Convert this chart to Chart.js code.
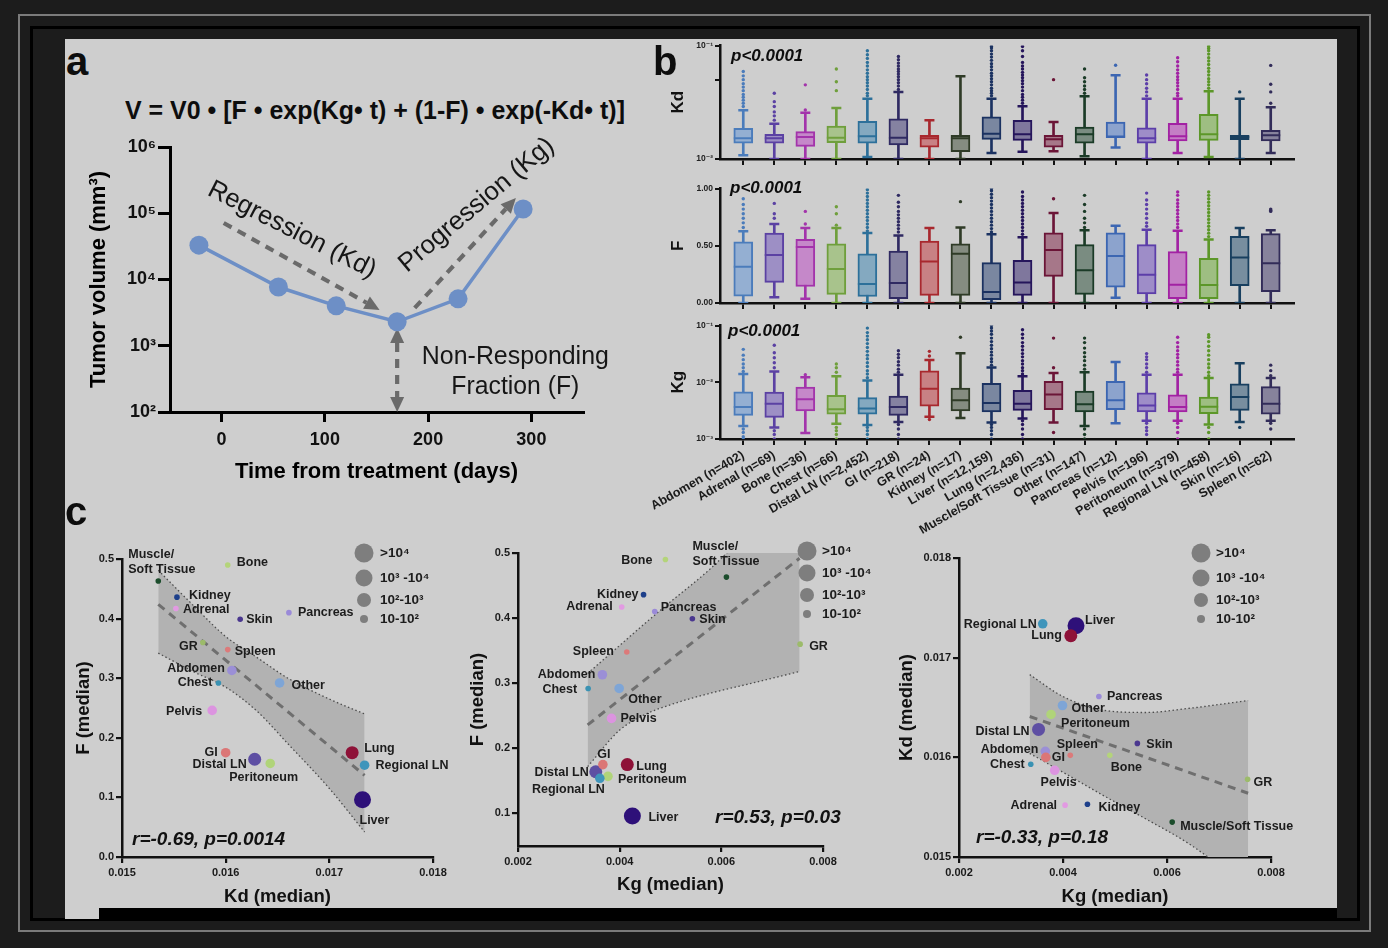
<!DOCTYPE html>
<html><head><meta charset="utf-8">
<script src="https://cdn.jsdelivr.net/npm/chart.js@4.4.1/dist/chart.umd.min.js"></script>
<style>
html,body{margin:0;padding:0;}
body{width:1388px;height:948px;background:#1c1c1c;position:relative;overflow:hidden;font-family:'Liberation Sans','DejaVu Sans',Arial,sans-serif;}
.abs{position:absolute;}
#outline{left:18px;top:14px;width:1353px;height:918px;border:2px solid #7b7b7b;box-sizing:border-box;}
#blk{left:30px;top:26px;width:1330px;height:895px;border:3px solid #000;box-sizing:border-box;}
#panel{left:65px;top:39px;width:1272px;height:869px;background:#cecece;}
#panelFoot{left:65px;top:908px;width:34px;height:11px;background:#cecece;}
#footBar{left:99px;top:908px;width:1238px;height:11px;background:#000;}
canvas{position:absolute;}
.lbl{position:absolute;font-weight:bold;color:#0d0d0d;line-height:1;white-space:nowrap;}
.ptxt{font-style:italic;font-size:17px;}
</style></head>
<body>
<div id="outline" class="abs"></div>
<div id="blk" class="abs"></div>
<div id="panel" class="abs"></div>
<div id="panelFoot" class="abs"></div>
<div id="footBar" class="abs"></div>

<canvas id="ca" width="570" height="375" style="left:60px;top:125px"></canvas>
<canvas id="b1" width="680" height="140" style="left:630px;top:34px"></canvas>
<canvas id="b2" width="680" height="141" style="left:630px;top:177px"></canvas>
<canvas id="b3" width="680" height="231" style="left:630px;top:314px"></canvas>
<canvas id="c1" width="400" height="378" style="left:70px;top:530px"></canvas>
<canvas id="c2" width="420" height="383" style="left:465px;top:525px"></canvas>
<canvas id="c3" width="445" height="383" style="left:890px;top:525px"></canvas>

<div class="lbl" style="left:66px;top:41px;font-size:40px">a</div>
<div class="lbl" style="left:653px;top:41px;font-size:40px">b</div>
<div class="lbl" style="left:65px;top:491px;font-size:40px">c</div>
<div class="lbl" id="formula" style="left:125px;top:98px;font-size:25px;transform-origin:0 0">V = V0 • [F • exp(Kg• t) + (1-F) • exp(-Kd• t)]</div>
<div class="lbl ptxt" style="left:731px;top:46.6px">p&lt;0.0001</div>
<div class="lbl ptxt" style="left:730px;top:178.6px">p&lt;0.0001</div>
<div class="lbl ptxt" style="left:728px;top:321.6px">p&lt;0.0001</div>

<script>
// ---------------- DATA ----------------
const categories = ['Abdomen','Adrenal','Bone','Chest','Distal LN','GI','GR','Kidney','Liver','Lung','Muscle/Soft Tissue','Other','Pancreas','Pelvis','Peritoneum','Regional LN','Skin','Spleen'];
const counts = [402,69,36,66,2452,218,24,17,12159,2436,31,147,12,196,379,458,16,62];

// panel a
const timeDays = [-22, 55, 111, 170, 229, 292];
const tumorVolume = [33000, 7700, 4000, 2300, 5100, 116000];
const xTicksA = [0, 100, 200, 300];
const yTicksA = [1e2, 1e3, 1e4, 1e5, 1e6];

// panel b: [low whisker, Q1, median, Q3, high whisker]
const kdBox = [
 [0.0108,0.0138,0.0152,0.0186,0.0269],[0.0100,0.0138,0.0152,0.0165,0.0204],[0.0100,0.0129,0.0156,0.0174,0.0255],
 [0.0100,0.0139,0.0154,0.0195,0.0282],[0.0104,0.0138,0.0159,0.0215,0.0340],[0.0100,0.0133,0.0154,0.0226,0.0390],
 [0.0100,0.0127,0.0152,0.0162,0.0219],[0.0100,0.0116,0.0152,0.0162,0.0535],[0.0113,0.0149,0.0167,0.0235,0.0340],
 [0.0116,0.0146,0.0165,0.0219,0.0292],[0.0117,0.0127,0.0149,0.0162,0.0212],[0.0106,0.0138,0.0165,0.0191,0.0357],
 [0.0126,0.0154,0.0158,0.0212,0.0546],[0.0100,0.0138,0.0152,0.0188,0.0340],[0.0113,0.0144,0.0159,0.0206,0.0340],
 [0.0104,0.0146,0.0165,0.0247,0.0395],[0.0100,0.0148,0.0156,0.0162,0.0340],[0.0113,0.0144,0.0162,0.0179,0.0286]
];
const kdOutliers = [
 [0.029,0.031,0.033,0.035,0.037,0.04,0.043,0.046,0.05,0.054,0.059],
 [0.022,0.024,0.026,0.029,0.032,0.038],
 [0.027,0.045],
 [0.04,0.048,0.062],
 [0.036,0.038,0.041,0.044,0.047,0.05,0.053,0.057,0.061,0.066,0.071,0.077,0.083,0.09],
 [0.041,0.044,0.047,0.05,0.053,0.056,0.059,0.062,0.066,0.07,0.075,0.08],
 [],
 [],
 [0.036,0.038,0.04,0.042,0.045,0.048,0.051,0.054,0.057,0.061,0.065,0.069,0.074,0.079,0.084,0.09,0.095,0.098],
 [0.031,0.033,0.035,0.037,0.04,0.043,0.046,0.049,0.052,0.055,0.058,0.062,0.066,0.071,0.08,0.09,0.098],
 [0.05],
 [0.038,0.041,0.044,0.048,0.052,0.062],
 [0.067],
 [0.036,0.039,0.042,0.046,0.05,0.055],
 [0.036,0.038,0.041,0.044,0.047,0.05,0.053,0.057,0.061,0.066,0.072,0.078],
 [0.042,0.045,0.048,0.051,0.055,0.059,0.063,0.068,0.073,0.078,0.084,0.09,0.094,0.098],
 [0.039],
 [0.031,0.039,0.0455,0.0668]
];
const fBox = [
 [0,0.06,0.316,0.534,0.626],[0.05,0.18,0.42,0.61,0.69],[0.037,0.144,0.49,0.555,0.655],
 [0,0.075,0.296,0.517,0.655],[0,0.057,0.167,0.43,0.612],[0,0.037,0.175,0.454,0.59],
 [0,0.066,0.362,0.54,0.655],[0,0.066,0.43,0.517,0.66],[0,0.03,0.095,0.353,0.6],
 [0,0.066,0.18,0.373,0.575],[0,0.233,0.463,0.612,0.785],[0,0.075,0.287,0.51,0.635],
 [0.046,0.138,0.41,0.612,0.675],[0,0.08,0.247,0.51,0.64],[0,0.037,0.16,0.448,0.632],
 [0,0.037,0.158,0.39,0.555],[0,0.152,0.397,0.583,0.655],[0,0.1,0.348,0.606,0.635]
];
const fOutliers = [
 [0.66,0.7,0.74,0.78,0.82,0.86,0.91],
 [0.74,0.78,0.87],
 [0.69,0.8],
 [0.68,0.78,0.84],
 [0.63,0.66,0.69,0.72,0.75,0.78,0.81,0.84,0.87,0.9,0.93,0.96,0.99],
 [0.62,0.65,0.68,0.71,0.74,0.77,0.8,0.84,0.88,0.94],
 [],
 [0.885],
 [0.62,0.65,0.68,0.71,0.74,0.77,0.8,0.83,0.86,0.89,0.92,0.95,0.98,1.0],
 [0.6,0.63,0.66,0.69,0.72,0.75,0.78,0.81,0.84,0.87,0.9,0.93,0.97],
 [0.91],
 [0.66,0.7,0.74,0.8,0.86,0.94],
 [],
 [0.67,0.7,0.74,0.78,0.82,0.86,0.9,0.96],
 [0.66,0.69,0.72,0.75,0.78,0.81,0.84,0.87,0.9,0.94,0.97],
 [0.58,0.61,0.64,0.67,0.7,0.73,0.76,0.79,0.82,0.85,0.88,0.91,0.94,0.97],
 [],
 [0.8,0.81,0.82]
];
const kgBox = [
 [0.0017,0.0026,0.00368,0.0068,0.014],[0.0016,0.0024,0.0042,0.0067,0.0155],[0.00127,0.00314,0.005,0.0082,0.0122],
 [0.00185,0.00275,0.00336,0.0059,0.0127],[0.00177,0.00275,0.00345,0.00535,0.0107],[0.002,0.0026,0.00368,0.0057,0.0136],
 [0.00247,0.0038,0.0077,0.0159,0.0247],[0.00234,0.00314,0.0048,0.0079,0.0323],[0.00195,0.003,0.0043,0.0096,0.0182],
 [0.0023,0.0032,0.0042,0.0072,0.0127],[0.00195,0.0033,0.0061,0.0104,0.0145],[0.0017,0.003,0.0041,0.007,0.015],
 [0.0019,0.0033,0.0048,0.0104,0.0228],[0.0021,0.003,0.0039,0.0065,0.0136],[0.0021,0.003,0.00368,0.006,0.0136],
 [0.0018,0.0028,0.0037,0.0055,0.0119],[0.002,0.0032,0.0055,0.0094,0.0216],[0.0021,0.00275,0.0042,0.0084,0.0119]
];
const kgOutliers = [
 [0.0155,0.018,0.021,0.025,0.03,0.038,0.0015,0.0013,0.0011,0.001],
 [0.018,0.022,0.027,0.033,0.045,0.0014,0.0012,0.001],
 [0.0136],
 [0.015,0.018,0.021,0.0016,0.0014,0.0012,0.001],
 [0.012,0.014,0.016,0.019,0.022,0.026,0.03,0.035,0.041,0.048,0.056,0.065,0.075,0.09,0.0016,0.0014,0.0012,0.001],
 [0.015,0.017,0.02,0.023,0.027,0.031,0.036,0.0018,0.0015,0.0012,0.001],
 [0.029,0.035,0.0022],
 [0.062],
 [0.02,0.023,0.026,0.03,0.034,0.039,0.045,0.052,0.06,0.07,0.08,0.09,0.1,0.0018,0.0016,0.0014,0.0012,0.001],
 [0.014,0.016,0.018,0.021,0.024,0.028,0.032,0.037,0.043,0.05,0.06,0.07,0.084,0.0021,0.0018,0.0015,0.0012,0.001],
 [0.018,0.06,0.0013],
 [0.017,0.02,0.024,0.028,0.033,0.04,0.05,0.06,0.0015,0.0012,0.001],
 [],
 [0.015,0.018,0.021,0.025,0.028,0.032,0.0019,0.0016,0.0014,0.0012],
 [0.015,0.017,0.02,0.023,0.027,0.031,0.036,0.042,0.05,0.062,0.0019,0.0016,0.0013,0.001],
 [0.013,0.015,0.018,0.021,0.025,0.03,0.036,0.043,0.052,0.062,0.069,0.0016,0.0013,0.001],
 [0.0016],
 [0.013,0.016,0.02,0.0019,0.0015]
];

// panel c: per-site medians
const kdMedian = [0.01606,0.01552,0.01602,0.01593,0.01628,0.01600,0.01578,0.01553,0.01732,0.01722,0.01535,0.01652,0.01661,0.01587,0.01643,0.01734,0.01614,0.01602];
const fMedian  = [0.313,0.417,0.490,0.292,0.164,0.175,0.360,0.436,0.096,0.175,0.463,0.292,0.410,0.246,0.157,0.154,0.399,0.348];
const kgMedian = [0.00366,0.00404,0.00490,0.00338,0.00353,0.00367,0.00755,0.00447,0.00425,0.00415,0.00610,0.00399,0.00469,0.00384,0.00377,0.00361,0.00543,0.00414];
// regression lines and 95% bands
const c1RegX = [0.01535, 0.01734], c1RegY = [0.424, 0.137];
const c1BandX = [0.01535,0.0157,0.0160,0.0163,0.0166,0.0170,0.01734];
const c1BandUp = [0.481,0.42,0.37,0.335,0.30,0.265,0.24];
const c1BandLo = [0.342,0.31,0.285,0.245,0.19,0.115,0.042];
const c2RegX = [0.00337, 0.00754], c2RegY = [0.236, 0.492];
const c2BandX = [0.00337,0.0040,0.0045,0.0050,0.0058,0.0066,0.00754];
const c2BandUp = [0.315,0.358,0.392,0.425,0.477,0.54,0.62];
const c2BandLo = [0.172,0.228,0.252,0.267,0.285,0.30,0.318];
const c3RegX = [0.00336, 0.00756], c3RegY = [0.01641, 0.01564];
const c3BandX = [0.00336,0.0040,0.0048,0.0056,0.0064,0.00756];
const c3BandUp = [0.01683,0.01661,0.01647,0.01645,0.01649,0.01657];
const c3BandLo = [0.01604,0.01585,0.01561,0.01538,0.01514,0.0147];
const sizeLegend = ['>10⁴','10³ -10⁴','10²-10³','10-10²'];

// ---------------- STYLE ----------------
const FF = "'Liberation Sans','DejaVu Sans',Arial,sans-serif";
Chart.defaults.font.family = FF;
Chart.defaults.color = '#151515';
const boxColors = ['#4b7cbb','#5b41a3','#a334ab','#6f9f3c','#2d709a','#2f2a62','#a8282e','#2f3b27','#1b3261','#25155b','#6b1537','#1b3b27','#3c66b2','#5c3ea9','#a222a3','#5c9729','#183f5f','#322c59'];
const pointColors = ['#9b8fd6','#e29ae2','#b4d47a','#3a92b3','#5e4fa3','#db7676','#9cbb6a','#1d3f8a','#2e1079','#8e1238','#1c4d2c','#7ea5d6','#9a8ad8','#dc94e0','#b0d479','#3f95bb','#4a378f','#dc7a7a'];
function lighten(hex, k){const n=parseInt(hex.slice(1),16);const r=(n>>16)&255,g=(n>>8)&255,b=n&255;const m=v=>Math.round(v*k+238*(1-k));return `rgb(${m(r)},${m(g)},${m(b)})`;}
const boxFills = boxColors.map(c=>lighten(c,0.55));
const sizeRadius = n => n >= 1e4 ? 8.5 : n >= 1e3 ? 6.5 : n >= 1e2 ? 4.8 : 2.8;
const legendRadius = [9.5, 8.5, 7, 4];
const SUP = {'-':'⁻','0':'⁰','1':'¹','2':'²','3':'³','4':'⁴','5':'⁵','6':'⁶','7':'⁷','8':'⁸','9':'⁹'};
const sup = n => String(n).split('').map(c=>SUP[c]).join('');
const el = id => document.getElementById(id);
const base = {responsive:false, animation:false, events:[], plugins:{legend:{display:false}, tooltip:{enabled:false}}};

// ---------------- PANEL A ----------------
const arrowsA = [
  {from:[2,71300], to:[153,3460]},
  {from:[187,3720], to:[285,170000]},
  {from:[170,1850], to:[170,100], double:true}
];
const textsA = [
  {text:'Regression (Kd)', at:[68,55800], angle:27, width:185},
  {text:'Progression (Kg)', at:[247,133000], angle:-40, width:194},
  {text:'Non-Responding', at:[284.5,676], angle:0, width:187},
  {text:'Fraction (F)', at:[284.5,238], angle:0, width:128}
];
function drawArrow(ctx,x1,y1,x2,y2,dbl){
  const a=Math.atan2(y2-y1,x2-x1), hl=15, hw=14;
  ctx.save(); ctx.strokeStyle=ctx.fillStyle='#6a6a6a'; ctx.lineWidth=4.2; ctx.setLineDash([9,7]);
  let sx=x1, sy=y1; if(dbl){sx=x1+Math.cos(a)*hl; sy=y1+Math.sin(a)*hl;}
  ctx.beginPath(); ctx.moveTo(sx,sy); ctx.lineTo(x2-Math.cos(a)*hl, y2-Math.sin(a)*hl); ctx.stroke();
  ctx.setLineDash([]);
  const head=(tx,ty,b)=>{ctx.beginPath();ctx.moveTo(tx,ty);
    ctx.lineTo(tx-Math.cos(b)*hl+Math.sin(b)*hw/2, ty-Math.sin(b)*hl-Math.cos(b)*hw/2);
    ctx.lineTo(tx-Math.cos(b)*hl-Math.sin(b)*hw/2, ty-Math.sin(b)*hl+Math.cos(b)*hw/2);
    ctx.closePath(); ctx.fill();};
  head(x2,y2,a); if(dbl) head(x1,y1,a+Math.PI);
  ctx.restore();
}
const annotA = {id:'annotA',
  beforeDatasetsDraw(chart){const {ctx,scales:{x,y}}=chart;
    arrowsA.forEach(r=>drawArrow(ctx,x.getPixelForValue(r.from[0]),y.getPixelForValue(r.from[1]),x.getPixelForValue(r.to[0]),y.getPixelForValue(r.to[1]),r.double));},
  afterDatasetsDraw(chart){const {ctx,scales:{x,y}}=chart;
    textsA.forEach(t=>{ctx.save(); ctx.font=`26px ${FF}`; ctx.fillStyle='#161616'; ctx.textAlign='center'; ctx.textBaseline='middle';
      const w=ctx.measureText(t.text).width;
      ctx.translate(x.getPixelForValue(t.at[0]), y.getPixelForValue(t.at[1])); ctx.rotate(t.angle*Math.PI/180); ctx.scale(t.width/w,1);
      ctx.fillText(t.text,0,0); ctx.restore();});}
};
new Chart(el('ca'), {
  type:'line',
  data:{datasets:[{data:timeDays.map((t,i)=>({x:t,y:tumorVolume[i]})), borderColor:'#6d8fc6', backgroundColor:'#6d8fc6',
    borderWidth:3.5, pointRadius:9.5, pointBorderWidth:0, pointBackgroundColor:'#6d8fc6', clip:false}]},
  options:Object.assign({}, base, {
    layout:{padding:{top:22,right:47,left:0,bottom:0}},
    scales:{
      x:{type:'linear', min:-50, max:350, afterBuildTicks:s=>{s.ticks=xTicksA.map(v=>({value:v}));}, afterFit:s=>{s.height=88;},
        ticks:{font:{size:18,weight:'bold'}, color:'#111', padding:7, maxRotation:0},
        grid:{display:true, drawOnChartArea:false, drawTicks:true, tickLength:10, color:'#000', lineWidth:3},
        border:{display:true, color:'#000', width:3},
        title:{display:true, text:'Time from treatment (days)', font:{size:22,weight:'bold'}, color:'#000', padding:{top:0,bottom:14.8}}},
      y:{type:'logarithmic', min:100, max:1e6, afterBuildTicks:s=>{s.ticks=yTicksA.map(v=>({value:v}));}, afterFit:s=>{s.width=110;},
        ticks:{callback:v=>'10'+sup(Math.round(Math.log10(v))), font:{size:18,weight:'bold'}, color:'#111', padding:2},
        grid:{display:true, drawOnChartArea:false, drawTicks:true, tickLength:12, color:'#000', lineWidth:3},
        border:{display:true, color:'#000', width:3},
        title:{display:true, text:'Tumor volume (mm³)', font:{size:22,weight:'bold'}, color:'#000', padding:{top:25.8,bottom:0}}}
    }
  }),
  plugins:[annotA]
});

// ---------------- PANEL B ----------------
const catLabels = categories.map((c,i)=>`${c} (n=${counts[i].toLocaleString('en-US')})`);
function makeBoxRow(id, stats, outliers, ycfg, showLabels, xh){
  const wh=[], bx=[], md=[], caps=[], capC=[], out=[], outC=[];
  stats.forEach((s,i)=>{
    wh.push({x:i,y:[s[0],s[4]]}); bx.push({x:i,y:[s[1],s[3]]}); md.push({x:i,y:s[2]});
    caps.push({x:i,y:s[0]},{x:i,y:s[4]}); capC.push(boxColors[i],boxColors[i]);
    outliers[i].forEach(v=>{out.push({x:i,y:v}); outC.push(boxColors[i]);});
  });
  new Chart(el(id), {
    type:'bar',
    data:{datasets:[
      {type:'bar', data:wh, backgroundColor:boxColors, borderWidth:0, barThickness:2, maxBarThickness:2, grouped:false, order:6},
      {type:'bar', data:bx, backgroundColor:boxFills, borderColor:boxColors, borderWidth:2, borderSkipped:false, barThickness:19, maxBarThickness:19, grouped:false, order:5},
      {type:'scatter', data:md, pointStyle:'line', pointRadius:9.5, pointBorderWidth:2, pointBorderColor:boxColors, borderColor:boxColors, order:4},
      {type:'scatter', data:caps, pointStyle:'line', pointRadius:5, pointBorderWidth:2.5, pointBorderColor:capC, borderColor:capC, order:3},
      {type:'scatter', data:out, pointStyle:'circle', pointRadius:1.7, pointBorderWidth:0, pointBackgroundColor:outC, backgroundColor:outC, order:2}
    ]},
    options:Object.assign({}, base, {
      layout:{padding:{top:10,right:16,left:0,bottom:0}},
      scales:{
        x:{type:'linear', min:-0.75, max:17.75, offset:false, afterBuildTicks:s=>{s.ticks=categories.map((c,i)=>({value:i}));}, afterFit:s=>{s.height=xh;},
          ticks:{display:showLabels, autoSkip:false, minRotation:30, maxRotation:30, callback:v=>catLabels[v], font:{size:12.5,weight:'bold'}, color:'#1a1a1a', padding:3},
          grid:{display:true, offset:false, drawOnChartArea:false, drawTicks:true, tickLength:6, color:'#111', lineWidth:2},
          border:{display:true, color:'#111', width:2.5}},
        y:Object.assign({afterFit:s=>{s.width=90;},
          grid:{display:true, drawOnChartArea:false, drawTicks:true, tickLength:5, color:'#111', lineWidth:2},
          border:{display:true, color:'#111', width:2.5},
          title:{display:true, text:ycfg.title, font:{size:17,weight:'bold'}, color:'#111', padding:{top:37.8,bottom:0}}},
          {type:ycfg.type, min:ycfg.min, max:ycfg.max, afterBuildTicks:s=>{s.ticks=ycfg.ticks.map(v=>({value:v}));},
           ticks:{callback:ycfg.fmt, font:{size:8.5,weight:'bold'}, color:'#222', padding:2}})
      }
    })
  });
}
const logFmt = v => (v===0.05 ? '' : '10'+sup(Math.round(Math.log10(v))));
makeBoxRow('b1', kdBox, kdOutliers, {title:'Kd', type:'logarithmic', min:0.01, max:0.1, ticks:[0.01,0.05,0.1], fmt:logFmt}, false, 15);
makeBoxRow('b2', fBox, fOutliers, {title:'F', type:'linear', min:0, max:1, ticks:[0,0.5,1], fmt:v=>v.toFixed(2)}, false, 15);
makeBoxRow('b3', kgBox, kgOutliers, {title:'Kg', type:'logarithmic', min:0.001, max:0.1, ticks:[0.001,0.01,0.1], fmt:logFmt}, true, 106);

// ---------------- PANEL C ----------------
const c1Labels = [[-7,-2,'r'],[7,1,'l'],[9,-2,'l'],[-6,0,'r'],[-8,5,'r'],[-8,0,'r'],[-5,4,'r'],[12,-2,'l'],[-3,21,'l'],[12,-4,'l'],[-30,-27,'l'],[12,3,'l'],[9,0,'l'],[-10,1,'r'],[-41,14,'l'],[11,0,'l'],[6,0,'l'],[7,2,'l']];
const c2Labels = [[-7,0,'r'],[-9,0,'r'],[-13,1,'r'],[-11,1,'r'],[-7,1,'r'],[1,-10,'c'],[9,2,'l'],[-5,0,'r'],[16,1,'l'],[9,2,'l'],[-34,-31,'l'],[9,11,'l'],[6,-4,'l'],[9,0,'l'],[10,3,'l'],[5,11,'r'],[7,1,'l'],[-13,0,'r']];
const c3Labels = [[-7,-2,'r'],[-8,0,'r'],[1,12,'l'],[-6,0,'r'],[-9,2,'r'],[6,0,'l'],[6,3,'l'],[11,3,'l'],[9,-5,'l'],[-9,0,'r'],[8,4,'l'],[9,3,'l'],[8,0,'l'],[4,12,'c'],[10,9,'l'],[-6,1,'r'],[9,1,'l'],[7,-11,'c']];

function makeScatter(p){
  const pts = categories.map((c,i)=>({x:p.xv[i], y:p.yv[i]}));
  const up = p.bandX.map((x,i)=>({x, y:p.bandUp[i]}));
  const lo = p.bandX.map((x,i)=>({x, y:p.bandLo[i]}));
  const reg = p.regX.map((x,i)=>({x, y:p.regY[i]}));
  const deco = {id:'deco'+p.id, afterDatasetsDraw(chart){
    const {ctx, scales:{x,y}} = chart;
    ctx.save(); ctx.fillStyle='#1c1c1c'; ctx.textBaseline='middle';
    ctx.font = `bold 12.5px ${FF}`;
    categories.forEach((c,i)=>{
      const o = p.labels[i];
      const px = x.getPixelForValue(p.xv[i]) + o[0], py = y.getPixelForValue(p.yv[i]) + o[1];
      ctx.textAlign = o[2]==='l' ? 'left' : o[2]==='r' ? 'right' : 'center';
      const lines = (i===10 && p.splitMuscle) ? ['Muscle/','Soft Tissue'] : [c];
      lines.forEach((t,k)=>ctx.fillText(t, px, py + k*15));
    });
    ctx.textAlign='left'; ctx.font = `bold 13.5px ${FF}`;
    sizeLegend.forEach((t,k)=>{
      const cx = p.legX - p.left, cy = p.legY[k] - p.top;
      ctx.fillStyle='#7e7e7e'; ctx.beginPath(); ctx.arc(cx, cy, legendRadius[k], 0, Math.PI*2); ctx.fill();
      ctx.fillStyle='#1c1c1c'; ctx.fillText(t, p.legTx - p.left, cy);
    });
    ctx.font = `italic bold 19px ${FF}`; ctx.fillStyle='#111';
    ctx.fillText(p.rText, p.rPos[0]-p.left, p.rPos[1]-p.top);
    ctx.restore();
  }};
  const tickFont = {size:11, weight:'bold'};
  new Chart(el(p.id), {
    type:'scatter',
    data:{datasets:[
      {data:pts, pointRadius:counts.map(sizeRadius), pointBackgroundColor:pointColors, pointBorderWidth:0, order:0},
      {type:'line', data:reg, borderColor:'#6f6f6f', borderWidth:3, borderDash:[8,6], pointRadius:0, fill:false, order:1},
      {type:'line', data:lo, borderColor:'#4d4d4d', borderWidth:1.3, borderDash:[1.5,2.5], pointRadius:0, fill:false, cubicInterpolationMode:'monotone', order:2},
      {type:'line', data:up, borderColor:'#4d4d4d', borderWidth:1.3, borderDash:[1.5,2.5], pointRadius:0, fill:'-1', backgroundColor:'#b2b2b2', cubicInterpolationMode:'monotone', order:3}
    ]},
    options:Object.assign({}, base, {
      layout:{padding:{top:p.padTop,right:p.padRight,left:0,bottom:0}},
      scales:{
        x:{type:'linear', min:p.xMin, max:p.xMax, afterBuildTicks:s=>{s.ticks=p.xTicks.map(v=>({value:v}));}, afterFit:s=>{s.height=p.xh;},
          ticks:{callback:v=>v.toFixed(3), font:tickFont, color:'#1a1a1a', padding:3, maxRotation:0, autoSkip:false},
          grid:{display:true, drawOnChartArea:false, drawTicks:true, tickLength:6, color:'#111', lineWidth:2.2},
          border:{display:true, color:'#111', width:2.5},
          title:{display:true, text:p.xTitle, font:{size:18.5,weight:'bold'}, color:'#111', padding:{top:0,bottom:p.xTitlePad}}},
        y:{type:'linear', min:p.yMin, max:p.yMax, afterBuildTicks:s=>{s.ticks=p.yTicks.map(v=>({value:v}));}, afterFit:s=>{s.width=p.yw;},
          ticks:{callback:v=>v.toFixed(p.yDec), font:tickFont, color:'#1a1a1a', padding:2, autoSkip:false},
          grid:{display:true, drawOnChartArea:false, drawTicks:true, tickLength:6, color:'#111', lineWidth:2.2},
          border:{display:true, color:'#111', width:2.5},
          title:{display:true, text:p.yTitle, font:{size:18.5,weight:'bold'}, color:'#111', padding:{top:p.yTitlePad,bottom:0}}}
      }
    }),
    plugins:[deco]
  });
}
makeScatter({id:'c1', left:70, top:530, xv:kdMedian, yv:fMedian, bandX:c1BandX, bandUp:c1BandUp, bandLo:c1BandLo, regX:c1RegX, regY:c1RegY,
  labels:c1Labels, splitMuscle:true, legX:364, legY:[553,578,600,619], legTx:380, rText:'r=-0.69, p=0.0014', rPos:[132,840],
  padTop:29, padRight:37, xh:51, yw:52, xMin:0.015, xMax:0.018, xTicks:[0.015,0.016,0.017,0.018], yMin:0, yMax:0.5, yTicks:[0,0.1,0.2,0.3,0.4,0.5], yDec:1,
  xTitle:'Kd (median)', yTitle:'F (median)', xTitlePad:0, yTitlePad:2.9});
makeScatter({id:'c2', left:465, top:525, xv:kgMedian, yv:fMedian, bandX:c2BandX, bandUp:c2BandUp, bandLo:c2BandLo, regX:c2RegX, regY:c2RegY,
  labels:c2Labels, splitMuscle:true, legX:807, legY:[551,573,595,614], legTx:822, rText:'r=0.53, p=0.03', rPos:[715,818],
  padTop:28, padRight:62, xh:62, yw:53, xMin:0.002, xMax:0.008, xTicks:[0.002,0.004,0.006,0.008], yMin:0.05, yMax:0.5, yTicks:[0.1,0.2,0.3,0.4,0.5], yDec:1,
  xTitle:'Kg (median)', yTitle:'F (median)', xTitlePad:11.9, yTitlePad:1.9});
makeScatter({id:'c3', left:890, top:525, xv:kgMedian, yv:kdMedian, bandX:c3BandX, bandUp:c3BandUp, bandLo:c3BandLo, regX:c3RegX, regY:c3RegY,
  labels:c3Labels, splitMuscle:false, legX:1201, legY:[553,578,600,619], legTx:1216, rText:'r=-0.33, p=0.18', rPos:[976,838],
  padTop:33, padRight:64, xh:51, yw:69, xMin:0.002, xMax:0.008, xTicks:[0.002,0.004,0.006,0.008], yMin:0.015, yMax:0.018, yTicks:[0.015,0.016,0.017,0.018], yDec:3,
  xTitle:'Kg (median)', yTitle:'Kd (median)', xTitlePad:0, yTitlePad:5.9});

(function(){const f=el('formula'); const w=f.getBoundingClientRect().width; f.style.transform=`scaleX(${500/w})`;})();
</script>
</body></html>
